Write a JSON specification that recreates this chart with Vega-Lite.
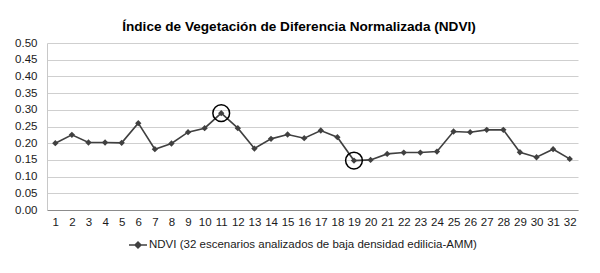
{
  "$schema": "https://vega.github.io/schema/vega-lite/v6.json",
  "width": 531,
  "height": 167,
  "autosize": {"type": "none"},
  "padding": {"left": 47, "top": 43, "right": 22, "bottom": 63},
  "background": "#ffffff",
  "config": {
    "font": "Liberation Sans",
    "view": {"stroke": null},
    "axis": {"labelFont": "Liberation Sans", "labelFontSize": 11.5, "labelColor": "#1a1a1a"}
  },
  "title": {
    "text": "Índice de Vegetación de Diferencia Normalizada (NDVI)",
    "font": "Liberation Sans",
    "fontSize": 13.6,
    "fontWeight": "bold",
    "color": "#000000",
    "anchor": "middle",
    "dx": -13.5,
    "offset": 3
  },
  "data": {
    "values": [
      {"escenario": 1, "ndvi": 0.200},
      {"escenario": 2, "ndvi": 0.225},
      {"escenario": 3, "ndvi": 0.202},
      {"escenario": 4, "ndvi": 0.202},
      {"escenario": 5, "ndvi": 0.201},
      {"escenario": 6, "ndvi": 0.260},
      {"escenario": 7, "ndvi": 0.182},
      {"escenario": 8, "ndvi": 0.199},
      {"escenario": 9, "ndvi": 0.233},
      {"escenario": 10, "ndvi": 0.245},
      {"escenario": 11, "ndvi": 0.290},
      {"escenario": 12, "ndvi": 0.245},
      {"escenario": 13, "ndvi": 0.184},
      {"escenario": 14, "ndvi": 0.213},
      {"escenario": 15, "ndvi": 0.226},
      {"escenario": 16, "ndvi": 0.215},
      {"escenario": 17, "ndvi": 0.238},
      {"escenario": 18, "ndvi": 0.218},
      {"escenario": 19, "ndvi": 0.148},
      {"escenario": 20, "ndvi": 0.150},
      {"escenario": 21, "ndvi": 0.168},
      {"escenario": 22, "ndvi": 0.172},
      {"escenario": 23, "ndvi": 0.172},
      {"escenario": 24, "ndvi": 0.175},
      {"escenario": 25, "ndvi": 0.235},
      {"escenario": 26, "ndvi": 0.233},
      {"escenario": 27, "ndvi": 0.240},
      {"escenario": 28, "ndvi": 0.240},
      {"escenario": 29, "ndvi": 0.173},
      {"escenario": 30, "ndvi": 0.158},
      {"escenario": 31, "ndvi": 0.182},
      {"escenario": 32, "ndvi": 0.153}
    ]
  },
  "encoding": {
    "x": {
      "field": "escenario",
      "type": "ordinal",
      "scale": {"type": "point", "padding": 0.5},
      "axis": {
        "title": null,
        "labelAngle": 0,
        "ticks": false,
        "labelPadding": 6,
        "domainColor": "#8c8c8c",
        "domainWidth": 1,
        "grid": false
      }
    },
    "y": {
      "field": "ndvi",
      "type": "quantitative",
      "scale": {"domain": [0, 0.5], "nice": false},
      "axis": {
        "title": null,
        "values": [0, 0.05, 0.1, 0.15, 0.2, 0.25, 0.3, 0.35, 0.4, 0.45, 0.5],
        "format": ".2f",
        "ticks": false,
        "labelPadding": 10,
        "domainColor": "#c8c8c8",
        "gridColor": "#cfcfcf",
        "gridWidth": 1.2
      }
    }
  },
  "layer": [
    {
      "mark": {"type": "line", "color": "#404040", "strokeWidth": 1.6},
      "encoding": {
        "color": {
          "datum": "NDVI (32 escenarios analizados de baja densidad edilicia-AMM)",
          "scale": {"range": ["#404040"]},
          "legend": {
            "title": null,
            "orient": "none",
            "legendX": 81,
            "legendY": 192,
            "labelFont": "Liberation Sans",
            "labelFontSize": 11.5,
            "labelColor": "#1a1a1a",
            "labelOffset": 1,
            "labelLimit": 0,
            "symbolType": "M-1,0L1,0M-0.33,0L0,-0.33L0.33,0L0,0.33Z",
            "symbolSize": 324,
            "symbolStrokeWidth": 1.5,
            "symbolStrokeColor": "#404040",
            "symbolFillColor": "#404040",
            "encode": {
              "symbols": {
                "update": {
                  "fill": {"value": "#404040"},
                  "stroke": {"value": "#404040"},
                  "strokeWidth": {"value": 1.5},
                  "opacity": {"value": 1}
                }
              }
            }
          }
        }
      }
    },
    {
      "mark": {"type": "point", "shape": "diamond", "filled": true, "size": 40, "color": "#404040", "opacity": 1}
    },
    {
      "transform": [{"filter": "datum.escenario == 11 || datum.escenario == 19"}],
      "mark": {"type": "point", "shape": "circle", "filled": false, "size": 280, "stroke": "#000000", "strokeWidth": 1.5, "opacity": 1}
    }
  ]
}
